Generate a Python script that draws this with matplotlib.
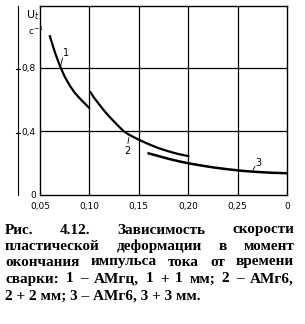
import matplotlib
matplotlib.use("Agg")
import matplotlib.pyplot as plt

# curve 1
x1 = [0.060, 0.065, 0.070, 0.075, 0.080, 0.085, 0.090, 0.095, 0.0995]
y1 = [1.00, 0.90, 0.815, 0.745, 0.69, 0.645, 0.61, 0.578, 0.55]
# curve 2
x2 = [0.101, 0.105, 0.110, 0.115, 0.120, 0.125, 0.130, 0.135, 0.140,
      0.150, 0.160, 0.170, 0.180, 0.190, 0.200]
y2 = [0.648, 0.61, 0.57, 0.53, 0.495, 0.462, 0.43, 0.40, 0.38,
      0.348, 0.32, 0.295, 0.275, 0.258, 0.245]
# curve 3
x3 = [0.160, 0.170, 0.180, 0.190, 0.200, 0.210, 0.225, 0.240, 0.255,
      0.270, 0.285, 0.300]
y3 = [0.262, 0.245, 0.228, 0.213, 0.200, 0.189, 0.174, 0.162, 0.152,
      0.145, 0.140, 0.137]

xticks = [0.05, 0.10, 0.15, 0.20, 0.25, 0.30]
xticklabels = ["0,05", "0,10", "0,15", "0,20", "0,25", "0"]
yticks = [0.0, 0.4, 0.8]
yticklabels = ["0", "0,4", "0,8"]

caption = [
    "Рис. 4.12. Зависимость скорости",
    "пластической деформации в момент",
    "окончания импульса тока от времени",
    "сварки: 1 – АМгц, 1 + 1 мм; 2 – АМг6,",
    "2 + 2 мм; 3 – АМг6, 3 + 3 мм.",
]

fig = plt.figure(figsize=(3.05, 3.24), dpi=100)
ax = fig.add_axes([40 / 305, 1 - 195 / 324, 247 / 305, 189 / 324])

tick_font = ["Liberation Sans Narrow", "DejaVu Sans"]

ax.plot(x1, y1, color="black", lw=1.6)
ax.plot(x2, y2, color="black", lw=1.6)
ax.plot(x3, y3, color="black", lw=1.8)

ax.set_xlim(0.05, 0.30)
ax.set_ylim(0.012, 1.19)
for v in [0.10, 0.15, 0.20, 0.25]:
    ax.axvline(v, color="black", lw=0.9)
for v in [0.4, 0.8]:
    ax.axhline(v, color="black", lw=0.9)

for s in ax.spines.values():
    s.set_linewidth(1.0)

ax.set_xticks(xticks)
ax.set_xticklabels(xticklabels, fontsize=6.5, family=tick_font)
ax.set_yticks(yticks)
ax.set_yticklabels(yticklabels, fontsize=6.5, family=tick_font)
ax.tick_params(axis="x", length=0, pad=5)
ax.tick_params(axis="y", length=0, pad=3)

# curve labels with leaders
ax.plot([0.0705, 0.0728], [0.80, 0.862], color="black", lw=0.6)
ax.text(0.0728, 0.865, "1", fontsize=7, family=tick_font, va="bottom")
ax.plot([0.1400, 0.1390], [0.362, 0.325], color="black", lw=0.6)
ax.text(0.1385, 0.31, "2", fontsize=7, family=tick_font, ha="center", va="top")
ax.plot([0.2656, 0.2676], [0.158, 0.180], color="black", lw=0.6)
ax.text(0.268, 0.172, "3", fontsize=7, family=tick_font, va="bottom")

# outer y axis line
ax.plot([-0.089, -0.089], [0.0, 1.0], transform=ax.transAxes,
        color="black", lw=0.8, clip_on=False)
for v in yticks[1:]:
    yy = (v - 0.012) / (1.19 - 0.012)
    ax.plot([-0.097, -0.081], [yy, yy], transform=ax.transAxes,
            color="black", lw=0.8, clip_on=False)
ax.text(-0.055, 0.99, "U$_t$", transform=ax.transAxes, fontsize=8,
        family=tick_font, va="top")
ax.text(-0.05, 0.9, "c$^{-1}$", transform=ax.transAxes, fontsize=6.5,
        family=tick_font, va="top")

# caption, justified
fig.canvas.draw()
r = fig.canvas.get_renderer()
left_px, right_px = 5, 294
line_y = [230, 246, 262, 279, 296]
cap_font = dict(fontsize=11, family="Liberation Serif", weight="bold",
                va="center", ha="left")
for i, line in enumerate(caption):
    y = 1 - line_y[i] / 324
    if i == len(caption) - 1:
        fig.text(left_px / 305, y, line, **cap_font)
        continue
    words = line.split(" ")
    texts = [fig.text(0, y, w, **cap_font) for w in words]
    widths = [t.get_window_extent(r).width for t in texts]
    gap = (right_px - left_px - sum(widths)) / (len(words) - 1)
    x = left_px
    for t, w in zip(texts, widths):
        t.set_x(x / 305)
        x += w + gap

fig.savefig("out.png", dpi=100)
